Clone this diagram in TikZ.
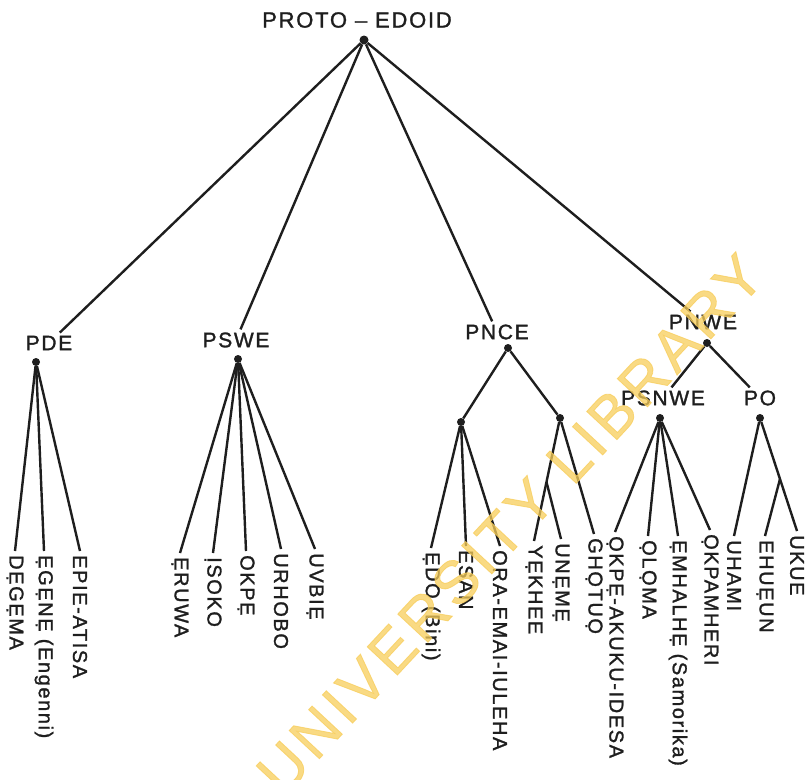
\documentclass[tikz,border=0pt]{standalone}
\usepackage{fontspec}
\setmainfont{Liberation Sans}[LetterSpace=8,FakeBold=1.4]
\usetikzlibrary{calc}
\definecolor{Ink}{RGB}{30,30,30}
\definecolor{Stamp}{RGB}{247,205,90}

\begin{document}
\begin{tikzpicture}[x=1pt,y=-1pt,
  lvl/.style={inner sep=3pt,font=\fontsize{21}{22}\selectfont,text=Ink},
  leaf/.style={rotate=-90,anchor=west,inner sep=4pt,font=\fontsize{20}{21}\selectfont,text=Ink},
  knot/.style={circle,fill=Ink,inner sep=0pt,minimum size=8pt},
  edge/.style={draw=Ink,line width=2.4pt}]
\useasboundingbox (0,0) rectangle (810,779);
% family heads
\node[lvl,font=\fontsize{22}{24}\selectfont] (root) at (357,20) {PROTO – EDOID};\node[knot,minimum size=9pt] (kroot) at (364,40) {};
\foreach \n/\x/\y/\t in {pde/49/343/PDE,pswe/236/340/PSWE,pnce/497/332/PNCE,pnwe/703/322/PNWE,psnwe/663/398/PSNWE,po/760/398/PO}
  \node[lvl] (\n) at (\x,\y) {\t};
\foreach \n/\x/\y in {kpde/36/362,kpswe/238/359,kpnce/508/348,kpnwe/707/343,kpncel/461/422,kpncer/560/418,kpsnwe/660/418,kpo/760/418}
  \node[knot] (\n) at (\x,\y) {};
% languages
\foreach \n/\x/\y/\t in {degema/15/551/DẸGẸMA,egene/44/551/{ẸGẸNẸ (Engenni)},epie/80/551/EPIE-ATISA,
  eruwa/180/553/ẸRUWA,isoko/213/553/ỊSOKO,okpe/246/551/OKPẸ,urhobo/281/549/URHOBO,uvbie/315/549/UVBIẸ,
  edo/431/548/{ẸDO (Bini)},esan/466/546/ESAN,ora/500/546/ORA-EMAI-IULEHA,
  yekhee/534/541/YẸKHEE,uneme/561/539/UNẸMẸ,ghotuo/594/534/GHỌTUỌ,
  okpeak/615/532/ỌKPẸ-AKUKU-IDESA,oloma/648/536/ỌLỌMA,emhalhe/678/536/{ẸMHALHẸ (Samorika)},okpamheri/710/530/ỌKPAMHERI,
  uhami/734/536/UHAMI,ehueun/765/536/EHUẸUN,ukue/797/531/UKUE}
  \node[leaf] (\n) at (\x,\y) {\t};
% branches
\foreach \c in {pde,pswe,pnce,pnwe} \draw[edge] (kroot) -- (\c);
\draw[edge] (kpnwe) -- (psnwe);\draw[edge] (kpnwe) -- (po);
\draw[edge] (kpnce) -- (kpncel);\draw[edge] (kpnce) -- (kpncer);
\foreach \p/\c in {kpde/degema,kpde/egene,kpde/epie,kpswe/eruwa,kpswe/isoko,kpswe/okpe,kpswe/urhobo,kpswe/uvbie,
  kpncel/edo,kpncel/esan,kpncel/ora,kpncer/yekhee,kpncer/ghotuo,
  kpsnwe/okpeak,kpsnwe/oloma,kpsnwe/emhalhe,kpsnwe/okpamheri,kpo/uhami,kpo/ukue}
  \draw[edge] (\p) -- (\c.west);
\coordinate (jy) at ($(kpncer)!.52!(yekhee.west)$);\coordinate (jo) at ($(kpo)!.54!(ukue.west)$);
\draw[edge] (jy) -- (uneme.west);\draw[edge] (jo) -- (ehueun.west);
% library stamp
\begin{scope}\clip (0,0) rectangle (810,779);
\node[rotate=47,text=Stamp,opacity=.75,font=\fontsize{60}{60}\selectfont] (stamp) at (510,524) {UNIVERSITY LIBRARY};
\end{scope}
\end{tikzpicture}
\end{document}
